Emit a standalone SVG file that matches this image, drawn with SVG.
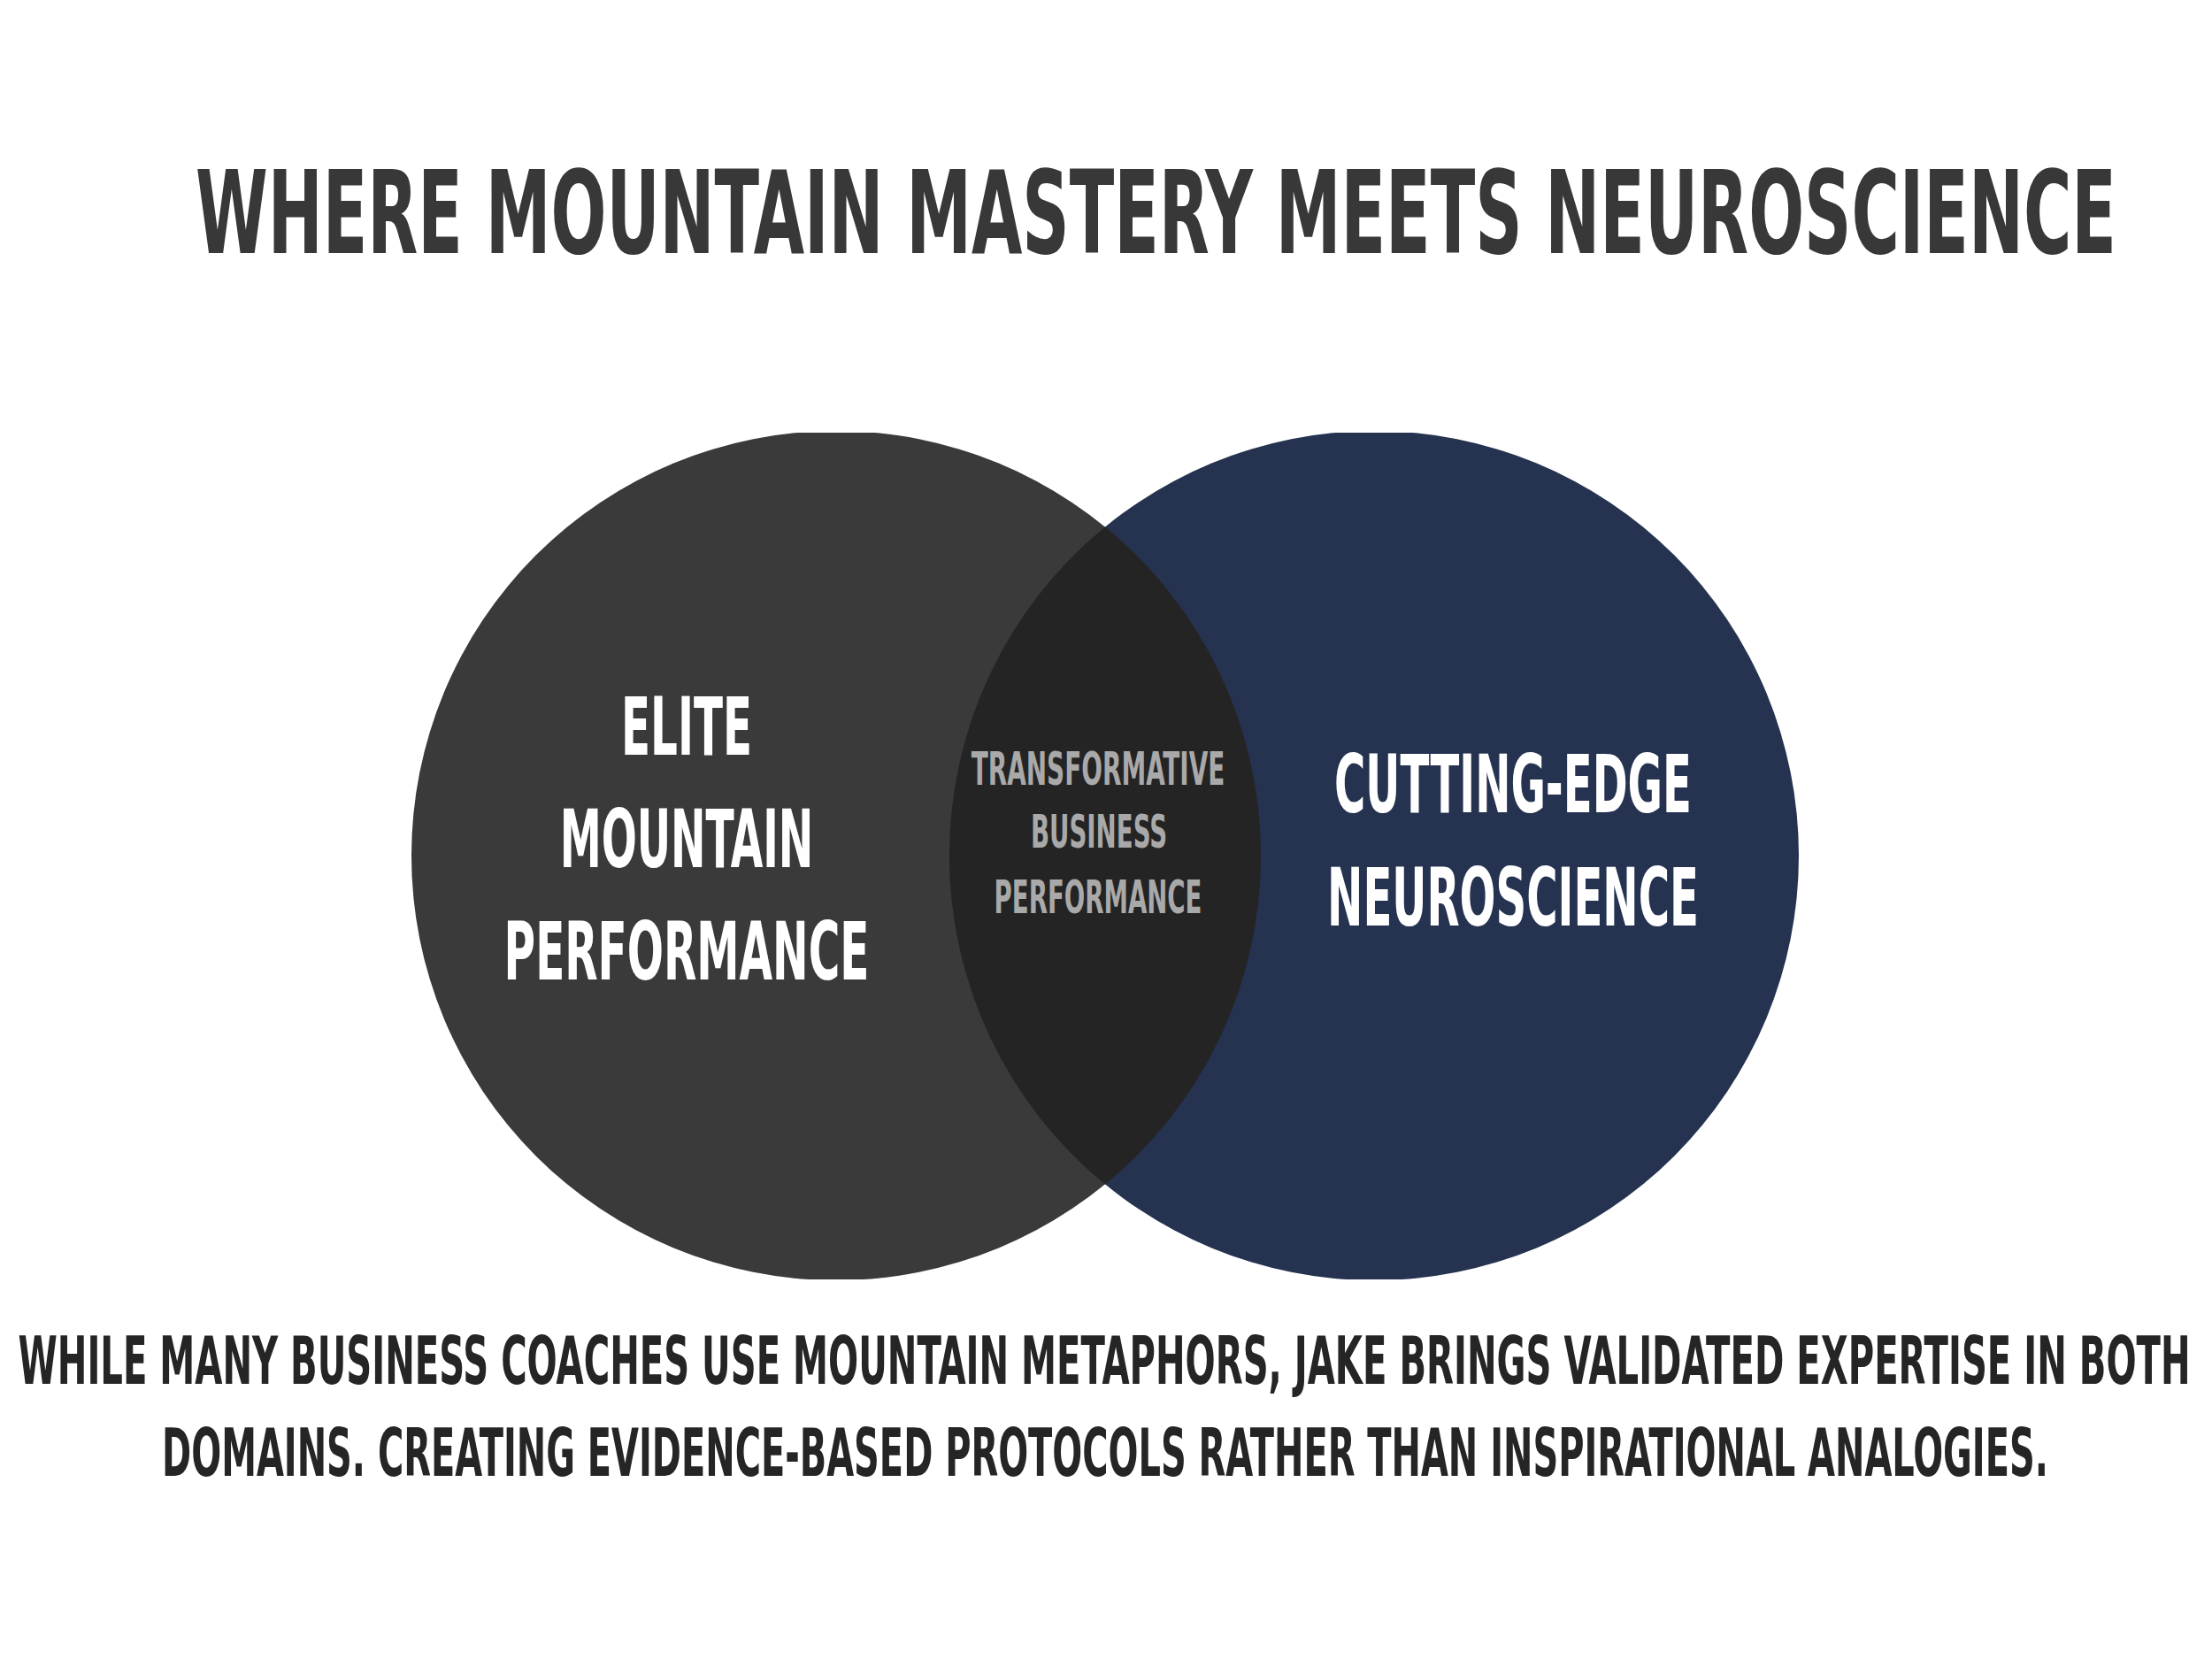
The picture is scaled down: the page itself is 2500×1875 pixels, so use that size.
<svg xmlns="http://www.w3.org/2000/svg" width="2500" height="1875" viewBox="0 0 2500 1875">
  <style>
    .t { font-family: "Liberation Sans Narrow", "DejaVu Sans Condensed", "Liberation Sans", sans-serif; font-weight: 700; }
    .title { font-size: 130px; fill: #383838; }
    .big { font-size: 91px; fill: #ffffff; text-anchor: middle; }
    .mid { font-size: 52px; fill: #a9a9a9; text-anchor: middle; }
    .note { font-size: 74px; fill: #252525; text-anchor: middle; }
  </style>
  <defs>
    <clipPath id="band">
      <rect x="0" y="489" width="2500" height="957"/>
    </clipPath>
  </defs>
  <rect x="0" y="0" width="2500" height="1875" fill="#ffffff"/>

  <g id="title">
    <text class="t title" transform="translate(221,286) scale(0.64,1)" x="0" y="0" textLength="3392" lengthAdjust="spacingAndGlyphs">WHERE MOUNTAIN MASTERY MEETS NEUROSCIENCE</text>
  </g>

  <g id="node-mountain" clip-path="url(#band)">
    <circle cx="945" cy="967" r="480" fill="#3a3a3a"/>
  </g>
  <g id="node-neuroscience" clip-path="url(#band)">
    <circle cx="1553" cy="967" r="480" fill="#253350"/>
  </g>
  <g id="node-overlap">
    <path d="M 1249 595.5 A 480 480 0 0 1 1249 1338.5 A 480 480 0 0 1 1249 595.5 Z" fill="#242424"/>
  </g>

  <g id="connectors"></g>

  <g id="label-mountain">
    <text class="t big" transform="translate(776,853) scale(0.64,1)" x="0" y="0" textLength="231" lengthAdjust="spacingAndGlyphs">ELITE</text>
    <text class="t big" transform="translate(776,980) scale(0.64,1)" x="0" y="0" textLength="448" lengthAdjust="spacingAndGlyphs">MOUNTAIN</text>
    <text class="t big" transform="translate(776,1107) scale(0.64,1)" x="0" y="0" textLength="645" lengthAdjust="spacingAndGlyphs">PERFORMANCE</text>
  </g>
  <g id="label-neuroscience">
    <text class="t big" transform="translate(1710,918) scale(0.64,1)" x="0" y="0" textLength="631" lengthAdjust="spacingAndGlyphs">CUTTING-EDGE</text>
    <text class="t big" transform="translate(1710,1046) scale(0.64,1)" x="0" y="0" textLength="656" lengthAdjust="spacingAndGlyphs">NEUROSCIENCE</text>
  </g>
  <g id="label-overlap">
    <text class="t mid" transform="translate(1241,887) scale(0.64,1)" x="0" y="0" textLength="448" lengthAdjust="spacingAndGlyphs">TRANSFORMATIVE</text>
    <text class="t mid" transform="translate(1242,958) scale(0.64,1)" x="0" y="0" textLength="241" lengthAdjust="spacingAndGlyphs">BUSINESS</text>
    <text class="t mid" transform="translate(1241,1032) scale(0.64,1)" x="0" y="0" textLength="367" lengthAdjust="spacingAndGlyphs">PERFORMANCE</text>
  </g>

  <g id="caption">
    <text class="t note" transform="translate(1248,1564) scale(0.58,1)" x="0" y="0" textLength="4233" lengthAdjust="spacingAndGlyphs">WHILE MANY BUSINESS COACHES USE MOUNTAIN METAPHORS, JAKE BRINGS VALIDATED EXPERTISE IN BOTH</text>
    <text class="t note" transform="translate(1249,1668) scale(0.6,1)" x="0" y="0" textLength="3553" lengthAdjust="spacingAndGlyphs">DOMAINS. CREATING EVIDENCE-BASED PROTOCOLS RATHER THAN INSPIRATIONAL ANALOGIES.</text>
  </g>
</svg>
